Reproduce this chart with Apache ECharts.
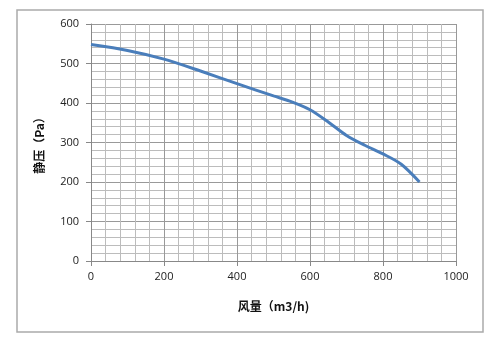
<!DOCTYPE html>
<html>
<head>
<meta charset="utf-8">
<script src="https://cdn.jsdelivr.net/npm/echarts@6/dist/echarts.min.js"></script>
<style>
html, body { margin: 0; padding: 0; background: #fff; }
#m1 { width: 500px; height: 351px; }
</style>
</head>
<body>
<div id="m1"></div>
<script>
// 风量-静压 曲线数据
var flow = [0, 100, 200, 300, 400, 500, 550, 600, 650, 700, 750, 800, 850, 900];
var pressure = [548, 533, 511, 481, 449, 418, 403, 383, 352, 318, 293, 271, 245, 200];

var points = flow.map(function (v, i) { return [v, pressure[i]]; });

var myChart = echarts.init(document.getElementById('m1'));
var labelFont = { fontSize: 11, color: '#222', fontFamily: '"Open Sans", "Noto Sans", sans-serif' };
var nameFont = { fontSize: 12, fontWeight: 'bold', color: '#111', fontFamily: '"Noto Sans CJK SC", sans-serif' };

var option = {
    animation: false,
    backgroundColor: '#fff',
    graphic: [{
        type: 'rect',
        shape: { x: 17, y: 10, width: 466, height: 322 },
        style: { fill: 'none', stroke: '#aaa', lineWidth: 1.5 },
        silent: true
    }],
    grid: {
        left: 91,
        right: 44,
        top: 24,
        bottom: 90
    },
    xAxis: {
        type: 'value',
        min: 0,
        max: 1000,
        interval: 200,
        name: '风量（m3/h)',
        nameLocation: 'middle',
        nameGap: 39,
        nameTextStyle: nameFont,
        axisLine: { show: true, lineStyle: { color: '#888', width: 1 } },
        axisTick: { show: true, length: 5, lineStyle: { color: '#888' } },
        axisLabel: Object.assign({ margin: 10, formatter: function (v) { return String(v); } }, labelFont),
        splitLine: { show: true, lineStyle: { color: '#999', width: 1 } },
        minorTick: { show: false, splitNumber: 5 },
        minorSplitLine: { show: true, lineStyle: { color: '#bcbcbc', width: 1 } }
    },
    yAxis: {
        type: 'value',
        min: 0,
        max: 600,
        interval: 100,
        name: '静压（Pa）',
        nameLocation: 'middle',
        nameGap: 46,
        nameRotate: 90,
        nameTextStyle: nameFont,
        axisLine: { show: true, lineStyle: { color: '#888', width: 1 } },
        axisTick: { show: true, length: 5, lineStyle: { color: '#888' } },
        axisLabel: Object.assign({ margin: 12 }, labelFont),
        splitLine: { show: true, lineStyle: { color: '#999', width: 1 } },
        minorTick: { show: false, splitNumber: 5 },
        minorSplitLine: { show: true, lineStyle: { color: '#bcbcbc', width: 1 } }
    },
    series: [{
        type: 'line',
        data: points,
        smooth: 0.3,
        symbol: 'none',
        lineStyle: { color: '#4a7ebb', width: 3 }
    }]
};
myChart.setOption(option);
</script>
</body>
</html>
